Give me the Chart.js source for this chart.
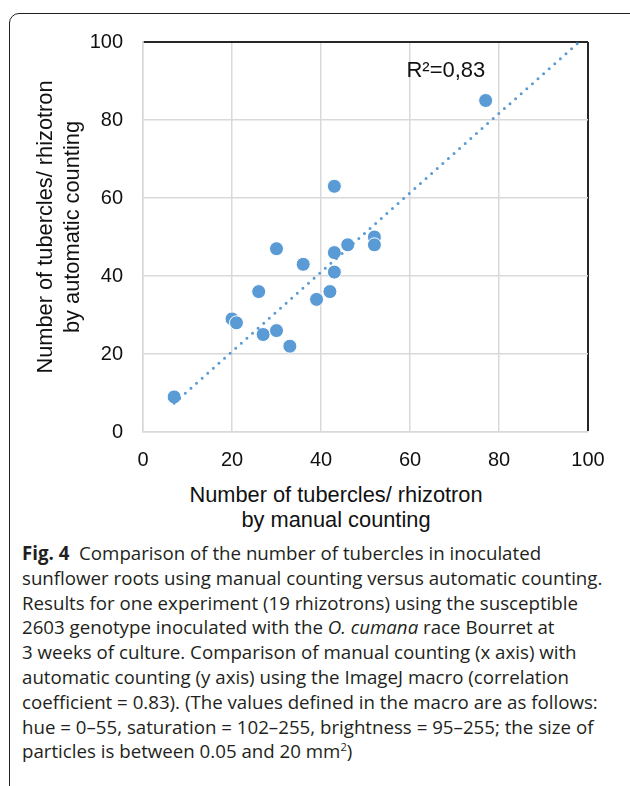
<!DOCTYPE html>
<html>
<head>
<meta charset="utf-8">
<script src="https://cdn.jsdelivr.net/npm/chart.js@4.4.1/dist/chart.umd.min.js"></script>
<style>
  html, body { margin: 0; padding: 0; background: #fff; overflow: hidden; }
  body { width: 630px; height: 786px; position: relative; }
  .card {
    position: absolute; left: 9px; top: 13px; width: 640px; height: 800px;
    border: 1.5px solid #231f20; border-radius: 10px; box-sizing: border-box;
  }
  #chart { position: absolute; left: 0; top: 0; }
  .axis-title {
    position: absolute; font-family: "Liberation Sans", Arial, sans-serif;
    font-size: 21.8px; color: #111; text-align: center; white-space: nowrap;
  }
  #xTitle { left: 136px; top: 482px; width: 400px; line-height: 25px; }
  #yTitle { left: -142px; top: 200px; width: 400px; line-height: 27px; transform: rotate(-90deg); }
  #caption {
    position: absolute; left: 22px; top: 541px; white-space: nowrap;
    font-family: "Open Sans", "Noto Sans", sans-serif; font-size: 18.7px;
    line-height: 24.8px; color: #231f20; letter-spacing: 0;
  }
  #caption sup { font-size: 11px; line-height: 0; }
</style>
</head>
<body>
<div class="card"></div>
<canvas id="chart" width="630" height="480"></canvas>
<div class="axis-title" id="xTitle">Number of tubercles/ rhizotron<br>by manual counting</div>
<div class="axis-title" id="yTitle">Number of tubercles/ rhizotron<br>by automatic counting</div>
<div id="caption"><b>Fig. 4</b>&nbsp; Comparison of the number of tubercles in inoculated<br>sunflower roots using manual counting versus automatic counting.<br>Results for one experiment (19 rhizotrons) using the susceptible<br>2603 genotype inoculated with the <i>O. cumana</i> race Bourret at<br>3 weeks of culture. Comparison of manual counting (x axis) with<br>automatic counting (y axis) using the ImageJ macro (correlation<br>coefficient = 0.83). (The values defined in the macro are as follows:<br>hue = 0–55, saturation = 102–255, brightness = 95–255; the size of<br>particles is between 0.05 and 20 mm<sup>2</sup>)</div>
<script>
// values
const manualCount = [7, 20, 21, 26, 27, 30, 30, 33, 36, 39, 42, 43, 43, 43, 46, 52, 52, 77];
const autoCount   = [9, 29, 28, 36, 25, 26, 47, 22, 43, 34, 36, 41, 46, 63, 48, 50, 48, 85];
// dotted linear trend line, ends as drawn
const trendX = [7, 98];
const trendY = [7.4, 100];
const axisTicks = [0, 20, 40, 60, 80, 100];
const rSquaredText = 'R²=0,83';

const blue = 'rgb(91, 155, 213)';
const gridGrey = '#d9d9d9';
const frameDark = '#262626';

const points = manualCount.map((x, i) => ({ x: x, y: autoCount[i] }));
const trend = trendX.map((x, i) => ({ x: x, y: trendY[i] }));

const rSquaredLabel = {
  id: 'rSquaredLabel',
  afterDatasetsDraw(chart) {
    const { ctx, scales } = chart;
    ctx.save();
    ctx.font = '22px "Liberation Sans", Arial, sans-serif';
    ctx.fillStyle = '#111';
    ctx.textAlign = 'left';
    ctx.textBaseline = 'middle';
    ctx.fillText(rSquaredText, scales.x.getPixelForValue(59.2), scales.y.getPixelForValue(92.6));
    ctx.restore();
  }
};

const tickFont = { family: '"Liberation Sans", Arial, sans-serif', size: 20 };

const ctx = document.getElementById('chart').getContext('2d');
const myChart = new Chart(ctx, {
  type: 'scatter',
  data: {
    datasets: [{
      label: 'trend',
      data: trend,
      showLine: true,
      borderColor: blue,
      borderWidth: 3,
      borderDash: [0, 7.5],
      borderCapStyle: 'round',
      pointRadius: 0,
      fill: false
    }, {
      label: 'rhizotrons',
      data: points,
      backgroundColor: blue,
      borderColor: '#ffffff',
      borderWidth: 1,
      pointRadius: 7,
      pointHoverRadius: 7
    }]
  },
  options: {
    responsive: false,
    animation: false,
    layout: { padding: { top: 42, right: 42, bottom: 0, left: 0 } },
    plugins: { legend: { display: false }, tooltip: { enabled: false } },
    scales: {
      x: {
        type: 'linear', min: 0, max: 100,
        afterBuildTicks: (scale) => { scale.ticks = axisTicks.map(v => ({ value: v })); },
        afterFit: (scale) => { scale.height = 48; },
        ticks: { color: '#111', font: tickFont, padding: 16, maxRotation: 0 },
        grid: {
          drawTicks: false,
          color: (c) => c.tick && c.tick.value === 100 ? frameDark : gridGrey,
          lineWidth: (c) => c.tick && c.tick.value === 100 ? 2 : 1.5
        },
        border: { color: gridGrey, width: 1.5 }
      },
      y: {
        type: 'linear', min: 0, max: 100,
        afterBuildTicks: (scale) => { scale.ticks = axisTicks.map(v => ({ value: v })); },
        afterFit: (scale) => { scale.width = 143; },
        ticks: { color: '#111', font: tickFont, padding: 20 },
        grid: {
          drawTicks: false,
          color: (c) => c.tick && c.tick.value === 100 ? frameDark : gridGrey,
          lineWidth: (c) => c.tick && c.tick.value === 100 ? 2 : 1.5
        },
        border: { color: gridGrey, width: 1.5 }
      }
    }
  },
  plugins: [rSquaredLabel]
});
</script>
</body>
</html>
